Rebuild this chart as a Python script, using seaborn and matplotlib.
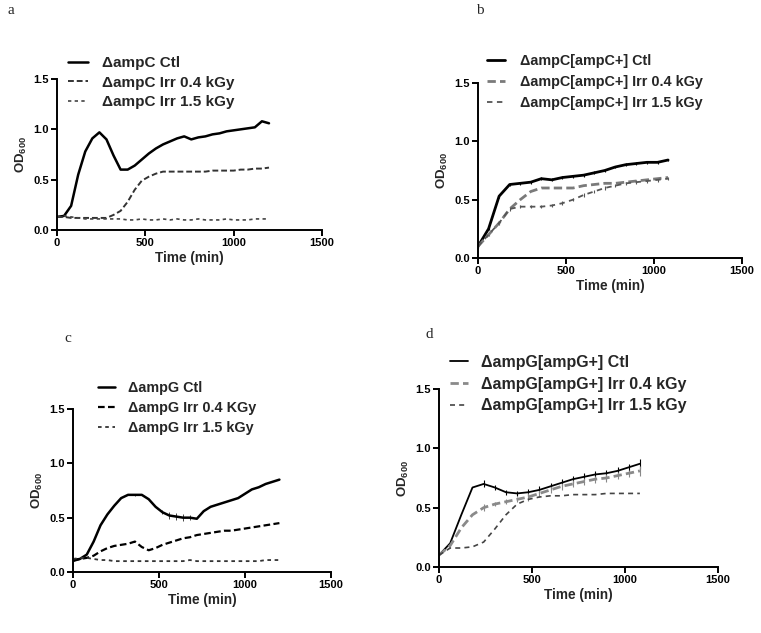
import numpy as np
import matplotlib
matplotlib.use("Agg")
import matplotlib.pyplot as plt
import seaborn as sns

# ---- data ----
t40 = list(range(0, 1201, 40))
t60 = list(range(0, 1081, 60))

a_ctl = [0.13, 0.14, 0.24, 0.55, 0.78, 0.91, 0.97, 0.90, 0.74, 0.60, 0.60, 0.64, 0.70, 0.76, 0.81, 0.85,
         0.88, 0.91, 0.93, 0.90, 0.92, 0.93, 0.95, 0.96, 0.98, 0.99, 1.00, 1.01, 1.02, 1.08, 1.06]
a_04 = [0.13, 0.13, 0.12, 0.12, 0.12, 0.12, 0.12, 0.12, 0.15, 0.19, 0.28, 0.40, 0.49, 0.53, 0.56, 0.58,
        0.58, 0.58, 0.58, 0.58, 0.58, 0.58, 0.59, 0.59, 0.59, 0.59, 0.60, 0.60, 0.61, 0.61, 0.62]
a_15 = [0.13, 0.14, 0.13, 0.12, 0.11, 0.11, 0.11, 0.11, 0.11, 0.11, 0.10, 0.10, 0.11, 0.10, 0.10, 0.11,
        0.10, 0.11, 0.10, 0.10, 0.11, 0.10, 0.10, 0.10, 0.11, 0.10, 0.10, 0.10, 0.11, 0.11, 0.11]

b_ctl = [0.10, 0.25, 0.53, 0.63, 0.64, 0.65, 0.68, 0.67, 0.69, 0.70, 0.71, 0.73, 0.75, 0.78, 0.80, 0.81, 0.82, 0.82, 0.84]
b_04 = [0.10, 0.20, 0.30, 0.42, 0.50, 0.57, 0.60, 0.60, 0.60, 0.60, 0.62, 0.63, 0.64, 0.64, 0.65, 0.66, 0.67, 0.68, 0.69]
b_15 = [0.10, 0.20, 0.30, 0.42, 0.44, 0.44, 0.44, 0.45, 0.47, 0.50, 0.54, 0.57, 0.60, 0.62, 0.64, 0.65, 0.66, 0.67, 0.68]

c_ctl = [0.11, 0.12, 0.16, 0.28, 0.43, 0.53, 0.61, 0.68, 0.71, 0.71, 0.71, 0.67, 0.60, 0.55, 0.52, 0.51,
         0.50, 0.50, 0.49, 0.56, 0.60, 0.62, 0.64, 0.66, 0.68, 0.72, 0.76, 0.78, 0.81, 0.83, 0.85]
c_04 = [0.10, 0.12, 0.13, 0.15, 0.19, 0.22, 0.24, 0.25, 0.26, 0.28, 0.23, 0.20, 0.22, 0.25, 0.27, 0.29,
        0.31, 0.32, 0.34, 0.35, 0.36, 0.37, 0.38, 0.38, 0.39, 0.40, 0.41, 0.42, 0.43, 0.44, 0.45]
c_15 = [0.12, 0.13, 0.13, 0.12, 0.11, 0.11, 0.10, 0.10, 0.10, 0.10, 0.10, 0.10, 0.10, 0.10, 0.10, 0.10,
        0.10, 0.11, 0.10, 0.10, 0.10, 0.10, 0.10, 0.10, 0.10, 0.10, 0.10, 0.10, 0.11, 0.11, 0.11]
c_err = [0.0, 0.0, 0.0, 0.0, 0.0, 0.0, 0.0, 0.0, 0.0, 0.01, 0.0, 0.0, 0.0, 0.02, 0.03, 0.03,
         0.03, 0.02, 0.0, 0.0, 0.0, 0.0, 0.0, 0.0, 0.0, 0.0, 0.0, 0.0, 0.0, 0.0, 0.0]

d_ctl = [0.10, 0.20, 0.44, 0.67, 0.70, 0.67, 0.63, 0.62, 0.63, 0.65, 0.68, 0.71, 0.74, 0.76, 0.78, 0.79, 0.81, 0.84, 0.87]
d_04 = [0.10, 0.18, 0.33, 0.44, 0.50, 0.53, 0.55, 0.57, 0.59, 0.62, 0.65, 0.68, 0.70, 0.72, 0.74, 0.75, 0.77, 0.79, 0.81]
d_15 = [0.10, 0.16, 0.16, 0.17, 0.21, 0.32, 0.44, 0.53, 0.57, 0.59, 0.60, 0.60, 0.61, 0.61, 0.61, 0.62, 0.62, 0.62, 0.62]
d_err = [0.0, 0.0, 0.0, 0.0, 0.03, 0.02, 0.02, 0.02, 0.03, 0.03, 0.03, 0.03, 0.03, 0.03, 0.03, 0.03, 0.03, 0.03, 0.04]

labels_a = ["\u0394ampC Ctl", "\u0394ampC Irr 0.4 kGy", "\u0394ampC Irr 1.5 kGy"]
labels_b = ["\u0394ampC[ampC+] Ctl", "\u0394ampC[ampC+] Irr 0.4 kGy", "\u0394ampC[ampC+] Irr 1.5 kGy"]
labels_c = ["\u0394ampG Ctl", "\u0394ampG Irr 0.4 KGy", "\u0394ampG Irr 1.5 kGy"]
labels_d = ["\u0394ampG[ampG+] Ctl", "\u0394ampG[ampG+] Irr 0.4 kGy", "\u0394ampG[ampG+] Irr 1.5 kGy"]

sns.set_style("ticks")
plt.rcParams['font.family'] = ['Liberation Sans', 'DejaVu Sans']
plt.rcParams['font.weight'] = 'bold'
plt.rcParams['mathtext.fontset'] = 'custom'
plt.rcParams['mathtext.rm'] = 'Liberation Sans:bold'
plt.rcParams['mathtext.it'] = 'Liberation Sans:bold'

W, H = 761, 633
fig = plt.figure(figsize=(W / 100, H / 100), dpi=100)


def px_axes(x0, x1, y0, y1):
    # axes box from pixel edges (left, right, y of 0, y of 1.5)
    return fig.add_axes([x0 / W, 1 - y0 / H, (x1 - x0) / W, (y0 - y1) / H])


def style_axes(ax):
    ax.set_xlim(0, 1500)
    ax.set_ylim(0, 1.5)
    ax.set_xticks([0, 500, 1000, 1500])
    ax.set_yticks([0.0, 0.5, 1.0, 1.5])
    ax.set_yticklabels(["0.0", "0.5", "1.0", "1.5"])
    for s in ["top", "right"]:
        ax.spines[s].set_visible(False)
    for s in ["left", "bottom"]:
        ax.spines[s].set_linewidth(1.4)
        ax.spines[s].set_color("black")
    ax.tick_params(direction="out", length=4, width=1.4, labelsize=8, pad=2, colors="black")
    for lab in ax.get_xticklabels() + ax.get_yticklabels():
        lab.set_fontweight("bold")
    ax.set_xlabel("Time (min)", fontsize=9.8, fontweight="bold", labelpad=2)
    ax.set_ylabel(r"OD$_{\rm 600}$", fontsize=9.5, fontweight="bold", labelpad=3)
    ax.patch.set_alpha(0)


def draw(ax, t, series, styles, labels, leg_x, leg_y, size, hl, tp, ls):
    for vals, st, lab in zip(series, styles, labels):
        sns.lineplot(x=t, y=vals, ax=ax, color=st[0], linewidth=st[1], linestyle=st[2], label=lab)
    ax.legend(loc="upper left", bbox_to_anchor=(leg_x / W, 1 - leg_y / H), bbox_transform=fig.transFigure,
              frameon=False, borderpad=0, borderaxespad=0, handlelength=hl, handletextpad=tp,
              labelspacing=ls, prop={"size": size, "weight": "bold"})
    style_axes(ax)


# panel a
ax_a = px_axes(57, 322, 230, 79)
draw(ax_a, t40, [a_ctl, a_04, a_15],
     [("black", 1.8, "-"), ("#333333", 1.4, (0, (3, 1.5))), ("#444444", 1.2, (0, (2, 2)))],
     labels_a, 68, 56, 11, 1.3, 0.9, 0.36)

# panel b
ax_b = px_axes(478, 742, 258, 83)
ax_b.errorbar(t60, b_15, yerr=0.015, fmt="none", ecolor="#555555", elinewidth=0.8)
ax_b.errorbar(t60, b_ctl, yerr=0.012, fmt="none", ecolor="black", elinewidth=0.8)
draw(ax_b, t60, [b_ctl, b_04, b_15],
     [("black", 2.0, "-"), ("#7a7a7a", 2.0, (0, (3, 1.5))), ("#555555", 1.3, (0, (3, 2.5)))],
     labels_b, 487, 54, 10.4, 1.25, 1.0, 0.5)

# panel c
ax_c = px_axes(73, 331, 572, 409)
ax_c.errorbar(t40, c_ctl, yerr=c_err, fmt="none", ecolor="#444444", elinewidth=0.7)
draw(ax_c, t40, [c_ctl, c_04, c_15],
     [("black", 1.8, "-"), ("black", 1.6, (0, (3, 1.5))), ("#333333", 1.3, (0, (2, 2)))],
     labels_c, 98, 381, 10.4, 1.2, 0.9, 0.42)

# panel d
ax_d = px_axes(439, 718, 567, 389)
ax_d.errorbar(t60, d_ctl, yerr=d_err, fmt="none", ecolor="black", elinewidth=0.8)
ax_d.errorbar(t60, d_04, yerr=d_err, fmt="none", ecolor="#888888", elinewidth=0.8)
draw(ax_d, t60, [d_ctl, d_04, d_15],
     [("black", 1.3, "-"), ("#8a8a8a", 2.0, (0, (3, 1.5))), ("#444444", 1.2, (0, (3, 2.5)))],
     labels_d, 450, 355, 11.5, 1.1, 0.85, 0.42)

# panel letters
for letter, x, y in [("a", 8, 10), ("b", 476, 10), ("c", 64, 338), ("d", 425, 334)]:
    fig.text(x / W, 1 - y / H, letter, family=["Liberation Serif", "DejaVu Serif"], fontsize=11,
             fontweight="normal", va="center", ha="left")

fig.savefig("out.png", dpi=100)
